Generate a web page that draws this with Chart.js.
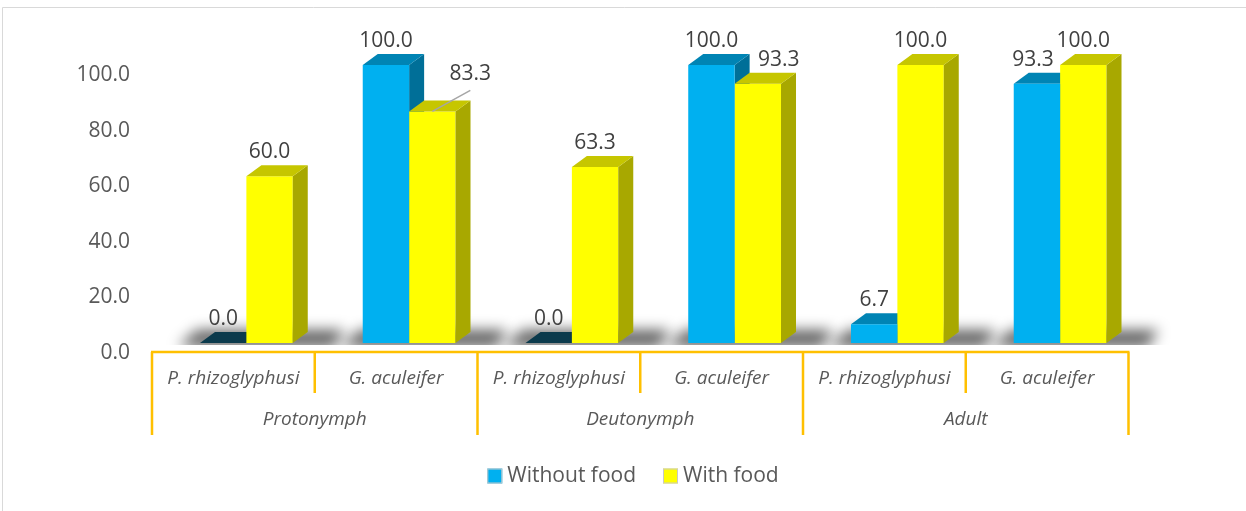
<!DOCTYPE html>
<html lang="en">
<head>
<meta charset="UTF-8">
<title>Mite survival with and without food</title>
<script src="https://cdn.jsdelivr.net/npm/chart.js"></script>
<style>
  body { margin: 0; background: #fff; overflow: hidden; }
  .wrap { position: relative; width: 1246px; height: 511px; }
</style>
</head>
<body>
<div class="wrap"><canvas id="chart"></canvas></div>
<script>
const species = ['P. rhizoglyphusi', 'G. aculeifer', 'P. rhizoglyphusi', 'G. aculeifer', 'P. rhizoglyphusi', 'G. aculeifer'];
const stages = ['Protonymph', 'Deutonymph', 'Adult'];
const withoutFood = [0.0, 100.0, 0.0, 100.0, 6.7, 93.3];
const withFood = [60.0, 83.3, 63.3, 93.3, 100.0, 100.0];
const yTicks = [0, 20, 40, 60, 80, 100];

// depth of the fake 3d boxes
const DX = 15, DY = -11;
const FONT = '"Open Sans", sans-serif';

const faces = [
  { top: '#0084B4', side: '#006F98', zero: '#0B3A4C' },
  { top: '#C6C600', side: '#A8A800', zero: '#8C8C00' }
];

// label nudges where Excel moved a label out of the way
const nudges = { '1-1': { dx: 38, dy: -13, leader: true }, '1-3': { dx: 21, dy: 0 }, '0-5': { dx: -4, dy: 0 } };

function poly(ctx, pts, color) {
  ctx.beginPath();
  ctx.moveTo(pts[0][0], pts[0][1]);
  for (let k = 1; k < pts.length; k++) ctx.lineTo(pts[k][0], pts[k][1]);
  ctx.closePath();
  ctx.fillStyle = color;
  ctx.fill();
}

function drawDepth(ctx, bar, f, value) {
  const l = bar.x - bar.width / 2, r = bar.x + bar.width / 2;
  if (value > 0) {
    poly(ctx, [[r, bar.y], [r + DX, bar.y + DY], [r + DX, bar.base + DY], [r, bar.base]], f.side);
  }
  poly(ctx, [[l, bar.y], [r, bar.y], [r + DX, bar.y + DY], [l + DX, bar.y + DY]], value > 0 ? f.top : f.zero);
}

const box3d = {
  id: 'box3d',
  beforeDraw(chart) {
    const ctx = chart.ctx;
    ctx.save();
    ctx.strokeStyle = '#D9D9D9';
    ctx.lineWidth = 1;
    ctx.beginPath();
    ctx.moveTo(2.5, chart.height);
    ctx.lineTo(2.5, 7.5);
    ctx.lineTo(chart.width, 7.5);
    ctx.stroke();
    ctx.restore();
  },
  beforeDatasetsDraw(chart) {
    const ctx = chart.ctx;
    const a = chart.getDatasetMeta(0).data, b = chart.getDatasetMeta(1).data;
    ctx.save();
    ctx.beginPath();
    ctx.rect(0, 0, chart.width, chart.chartArea.bottom + 2);
    ctx.clip();
    ctx.filter = 'blur(7px)';
    a.forEach((bar, i) => {
      const l = bar.x - bar.width / 2 - 22;
      const r = b[i].x + b[i].width / 2 + DX + 26;
      const base = bar.base + 4;
      poly(ctx, [[l, base], [r, base], [r + DX - 4, base + DY - 6], [l + DX + 4, base + DY - 6]], 'rgba(0,0,0,0.62)');
    });
    ctx.restore();
    ctx.save();
    a.forEach((bar, i) => drawDepth(ctx, bar, faces[0], withoutFood[i]));
    ctx.restore();
  },
  afterDatasetsDraw(chart) {
    const ctx = chart.ctx;
    ctx.save();
    chart.getDatasetMeta(1).data.forEach((bar, i) => drawDepth(ctx, bar, faces[1], withFood[i]));
    ctx.font = '21px ' + FONT;
    ctx.fillStyle = '#404040';
    ctx.textAlign = 'center';
    ctx.textBaseline = 'alphabetic';
    chart.data.datasets.forEach((ds, d) => {
      chart.getDatasetMeta(d).data.forEach((bar, i) => {
        const n = nudges[d + '-' + i] || { dx: 0, dy: 0 };
        const tx = bar.x + n.dx, ty = bar.y + DY - 7 + n.dy;
        if (n.leader) {
          ctx.strokeStyle = '#A6A6A6';
          ctx.lineWidth = 1.5;
          ctx.beginPath();
          ctx.moveTo(bar.x, bar.y);
          ctx.lineTo(tx, ty + 10);
          ctx.stroke();
        }
        ctx.fillText(ds.data[i].toFixed(1), tx, ty);
      });
    });
    ctx.restore();
  },
  afterDraw(chart) {
    const ctx = chart.ctx;
    const xs = chart.scales.x;
    const step = xs.getPixelForValue(1) - xs.getPixelForValue(0);
    const edge = i => xs.getPixelForValue(i) - step / 2 - 13;
    const top = chart.chartArea.bottom + 9;
    ctx.save();
    ctx.strokeStyle = '#FFC000';
    ctx.lineWidth = 2.5;
    ctx.beginPath();
    ctx.moveTo(edge(0) - 1, top);
    ctx.lineTo(edge(species.length) + 1, top);
    for (let i = 0; i <= species.length; i++) {
      ctx.moveTo(edge(i), top);
      ctx.lineTo(edge(i), i % 2 === 0 ? top + 83 : top + 41);
    }
    ctx.stroke();
    ctx.fillStyle = '#595959';
    ctx.textAlign = 'center';
    ctx.textBaseline = 'middle';
    ctx.font = 'italic 19px ' + FONT;
    species.forEach((s, i) => ctx.fillText(s, (edge(i) + edge(i + 1)) / 2, top + 27));
    stages.forEach((s, g) => ctx.fillText(s, (edge(2 * g) + edge(2 * g + 2)) / 2, top + 68));

    // legend
    ctx.font = '21px ' + FONT;
    ctx.textBaseline = 'middle';
    ctx.textAlign = 'left';
    const items = chart.data.datasets.map(ds => ({ label: ds.label, color: ds.backgroundColor, w: 20 + ctx.measureText(ds.label).width }));
    const gap = 27;
    const total = items.reduce((s, it) => s + it.w, 0) + gap * (items.length - 1);
    let x = 633 - total / 2;
    const y = 476;
    items.forEach(it => {
      ctx.fillStyle = it.color;
      ctx.fillRect(x, y - 7.5, 15, 15);
      ctx.strokeStyle = '#C8C8C8';
      ctx.lineWidth = 1;
      ctx.strokeRect(x + 0.5, y - 7, 14, 14);
      ctx.fillStyle = '#595959';
      ctx.fillText(it.label, x + 20, y);
      x += it.w + gap;
    });
    ctx.restore();
  }
};

new Chart(document.getElementById('chart'), {
  type: 'bar',
  data: {
    labels: species,
    datasets: [
      { label: 'Without food', data: withoutFood, backgroundColor: '#00B0F0' },
      { label: 'With food', data: withFood, backgroundColor: '#FFFF00' }
    ]
  },
  options: {
    responsive: true,
    maintainAspectRatio: false,
    animation: false,
    categoryPercentage: 0.57,
    barPercentage: 1,
    layout: { padding: { left: 0, right: 104.5, top: 65, bottom: 168 } },
    plugins: { legend: { display: false }, tooltip: { enabled: false } },
    scales: {
      x: { display: false },
      y: {
        min: 0,
        max: 100,
        afterBuildTicks: s => { s.ticks = yTicks.map(v => ({ value: v })); },
        afterFit: s => { s.width = 165; },
        grid: { display: false, drawTicks: false },
        border: { display: false },
        ticks: {
          padding: 35,
          labelOffset: 10,
          color: '#595959',
          font: { family: FONT, size: 21 },
          callback: v => Number(v).toFixed(1)
        }
      }
    }
  },
  plugins: [box3d]
});
</script>
</body>
</html>
